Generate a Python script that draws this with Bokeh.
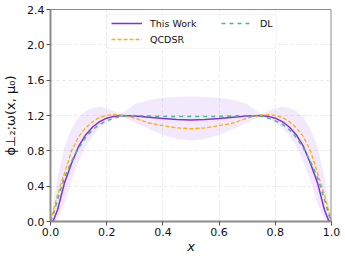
from bokeh.plotting import figure
from bokeh.models import (Range1d, FixedTicker, Legend, LegendItem, Span,
                          BoxAnnotation, CustomJSTickFormatter)
from bokeh.embed import file_html
from bokeh.resources import INLINE

# ---------------- data ----------------
x = [0.0, 0.01, 0.025, 0.05, 0.075, 0.1, 0.125, 0.15, 0.175, 0.2, 0.225, 0.25,
     0.3, 0.35, 0.4, 0.45, 0.5, 0.55, 0.6, 0.65, 0.7,
     0.75, 0.775, 0.8, 0.825, 0.85, 0.875, 0.9, 0.925, 0.95, 0.975, 0.99, 1.0]

this_work = [0.0, 0.01, 0.13, 0.44, 0.66, 0.85, 0.98, 1.07, 1.13, 1.17, 1.19, 1.20,
             1.195, 1.18, 1.165, 1.155, 1.15, 1.155, 1.165, 1.18, 1.195,
             1.20, 1.19, 1.17, 1.13, 1.07, 0.98, 0.85, 0.66, 0.44, 0.13, 0.01, 0.0]

qcdsr = [0.0, 0.12, 0.30, 0.55, 0.80, 0.96, 1.06, 1.13, 1.18, 1.20, 1.21, 1.205,
         1.17, 1.115, 1.085, 1.06, 1.05, 1.06, 1.085, 1.115, 1.17,
         1.205, 1.21, 1.20, 1.18, 1.13, 1.06, 0.96, 0.80, 0.55, 0.30, 0.12, 0.0]

dl = [0.0, 0.08, 0.25, 0.50, 0.68, 0.83, 0.95, 1.04, 1.10, 1.14, 1.17, 1.19,
      1.20, 1.195, 1.19, 1.19, 1.19, 1.19, 1.19, 1.195, 1.20,
      1.19, 1.17, 1.14, 1.10, 1.04, 0.95, 0.83, 0.68, 0.50, 0.25, 0.08, 0.0]

band_upper = [0.0, 0.2, 0.5, 0.85, 1.05, 1.18, 1.25, 1.285, 1.295, 1.285, 1.25, 1.21,
              1.33, 1.375, 1.40, 1.41, 1.415, 1.41, 1.40, 1.375, 1.33,
              1.21, 1.25, 1.285, 1.295, 1.285, 1.25, 1.18, 1.05, 0.85, 0.5, 0.2, 0.0]

band_lower = [0.0, 0.0, 0.03, 0.2, 0.47, 0.68, 0.85, 0.97, 1.06, 1.12, 1.17, 1.195,
              1.12, 1.05, 0.98, 0.935, 0.92, 0.935, 0.98, 1.05, 1.12,
              1.195, 1.17, 1.12, 1.06, 0.97, 0.85, 0.68, 0.47, 0.2, 0.03, 0.0, 0.0]

x_ticks = [0.0, 0.2, 0.4, 0.6, 0.8, 1.0]
y_ticks = [0.0, 0.4, 0.8, 1.2, 1.6, 2.0, 2.4]

x_label = "x"
y_label = "ϕ⊥₂;ω(x, μ₀)"

PURPLE = "#8A2BE2"
ORANGE = "#FFB000"
GREEN = "#3DBE8B"
FONT = "DejaVu Sans"

# ---------------- figure ----------------
p = figure(width=345, height=257, x_range=Range1d(0, 1), y_range=Range1d(0, 2.4),
           output_backend="svg", toolbar_location=None,
           min_border_left=46, min_border_right=14, min_border_top=9, min_border_bottom=36)
p.outline_line_color = None
p.background_fill_color = "white"

for ax in (p.xaxis, p.yaxis):
    ax.axis_line_color = "#8c8c8c"
    ax.axis_line_width = 2
    ax.major_tick_line_color = "#555555"
    ax.major_tick_in = 0
    ax.major_tick_out = 4
    ax.minor_tick_line_color = None
    ax.major_label_text_font = FONT
    ax.major_label_text_font_size = "11px"
    ax.major_label_text_color = "#111111"
    ax.major_label_standoff = 2
    ax.axis_label_text_font = FONT
    ax.axis_label_text_color = "#111111"
p.xaxis.ticker = FixedTicker(ticks=x_ticks)
p.yaxis.ticker = FixedTicker(ticks=y_ticks)
p.xaxis.formatter = CustomJSTickFormatter(code="return tick.toFixed(1);")
p.yaxis.formatter = CustomJSTickFormatter(code="return tick.toFixed(1);")

p.xaxis.axis_label = x_label
p.xaxis.axis_label_text_font_style = "italic"
p.xaxis.axis_label_text_font_size = "13px"
p.xaxis.axis_label_standoff = 0
p.yaxis.axis_label = y_label
p.yaxis.axis_label_text_font_style = "normal"
p.yaxis.axis_label_text_font_size = "13px"
p.yaxis.axis_label_standoff = 6

p.xgrid.ticker = FixedTicker(ticks=x_ticks)
p.ygrid.ticker = FixedTicker(ticks=y_ticks)
for g in (p.xgrid, p.ygrid):
    g.grid_line_color = "#d0d0d0"
    g.grid_line_alpha = 0.6
    g.grid_line_dash = "3 3"
    g.grid_line_width = 0.8

# spines right / top
p.add_layout(Span(location=1.0, dimension="height", line_color="#8c8c8c", line_width=2))
p.add_layout(Span(location=2.4, dimension="width", line_color="#222222", line_width=1))

# ---------------- glyphs ----------------
p.varea(x=x, y1=band_lower, y2=band_upper, fill_color=PURPLE, fill_alpha=0.1)
r_tw = p.line(x, this_work, line_color=PURPLE, line_width=1.5)
r_qc = p.line(x, qcdsr, line_color=ORANGE, line_width=1.3, line_dash="4 2")
r_dl = p.line(x, dl, line_color=GREEN, line_width=1.5, line_dash="4 4")

# ---------------- legend ----------------
p.add_layout(BoxAnnotation(left=0.2, right=0.8035, bottom=1.959, top=2.343,
                           fill_color="white", fill_alpha=0.85,
                           line_color="#d6d6d6", line_width=1, border_radius=3))

def make_legend(items, loc):
    lg = Legend(items=items, location=loc, orientation="vertical",
                border_line_color=None, background_fill_alpha=0,
                padding=0, margin=0, spacing=4, glyph_width=31, glyph_height=12,
                label_height=12, label_standoff=8,
                label_text_font=FONT, label_text_font_size="9.5px",
                label_text_color="#111111")
    return lg

leg1 = make_legend([LegendItem(label="This Work", renderers=[r_tw]),
                    LegendItem(label="QCDSR", renderers=[r_qc])], (61, 176))
leg2 = make_legend([LegendItem(label="DL", renderers=[r_dl])], (171, 192))
p.add_layout(leg1)
p.add_layout(leg2)

open("out.html", "w").write(file_html(p, INLINE))
